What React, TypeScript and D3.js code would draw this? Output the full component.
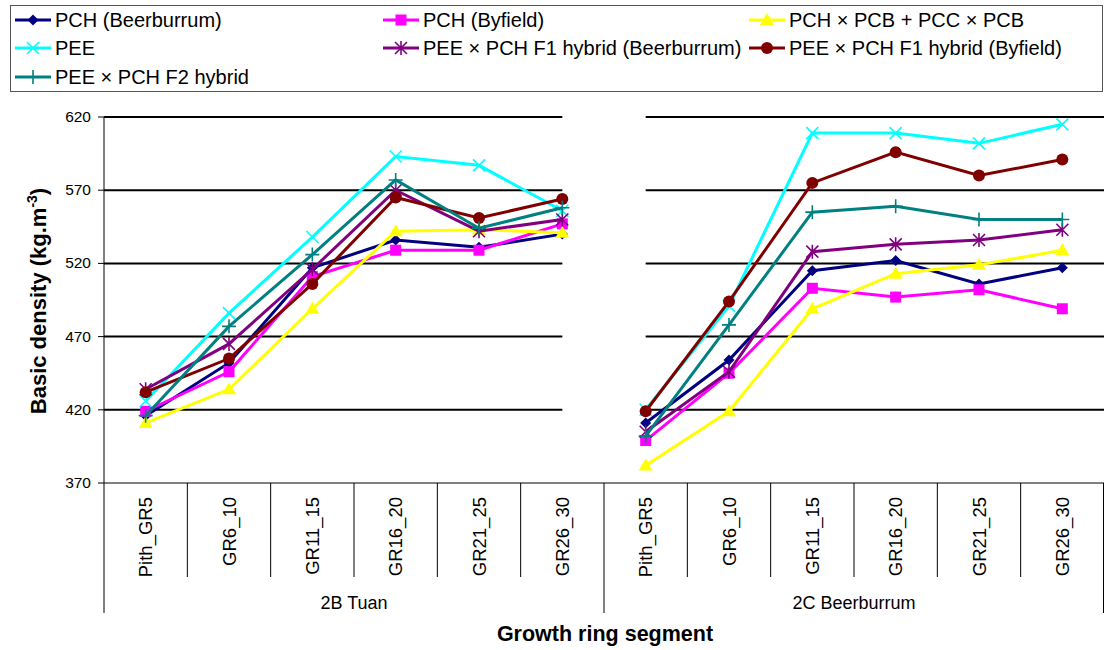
import React from "react";
import * as d3 from "d3";

const categories = ["Pith_GR5", "GR6_10", "GR11_15", "GR16_20", "GR21_25", "GR26_30"];
const groups = ["2B Tuan", "2C Beerburrum"];
const yTicks = [370, 420, 470, 520, 570, 620];

const seriesNames = [
  "PCH (Beerburrum)",
  "PCH (Byfield)",
  "PCH × PCB + PCC × PCB",
  "PEE",
  "PEE × PCH F1 hybrid (Beerburrum)",
  "PEE × PCH F1 hybrid (Byfield)",
  "PEE × PCH F2 hybrid",
];
const seriesColors = ["#000080", "#FF00FF", "#FFFF00", "#00FFFF", "#800080", "#800000", "#008080"];
const seriesMarkers = ["diamond", "square", "triangle", "x", "asterisk", "circle", "plus"];

// values: [2B Tuan x6, 2C Beerburrum x6]
const pchBeerburrum = [416, 452, 517, 536, 531, 540, 411, 454, 515, 522, 506, 517];
const pchByfield = [419, 446, 511, 529, 529, 547, 399, 445, 503, 497, 502, 489];
const pchPcb = [411, 434, 489, 542, 543, 541, 382, 419, 489, 513, 519, 529];
const pee = [426, 486, 538, 593, 587, 556, 420, 491, 609, 609, 602, 615];
const f1Beerburrum = [434, 465, 516, 570, 542, 550, 405, 446, 528, 533, 536, 543];
const f1Byfield = [432, 455, 506, 565, 551, 564, 419, 494, 575, 596, 580, 591];
const f2Hybrid = [416, 477, 526, 577, 544, 558, 402, 478, 555, 559, 550, 550];

const seriesValues = [pchBeerburrum, pchByfield, pchPcb, pee, f1Beerburrum, f1Byfield, f2Hybrid];

const FONT = "'Liberation Sans', Arial, sans-serif";

function Marker({ type, x, y, color }: { type: string; x: number; y: number; color: string }) {
  const s = 5.5;
  switch (type) {
    case "diamond":
      return <path d={`M${x},${y - s}L${x + s},${y}L${x},${y + s}L${x - s},${y}Z`} fill={color} />;
    case "square":
      return <rect x={x - 5.5} y={y - 5.5} width={11} height={11} fill={color} />;
    case "triangle":
      return <path d={`M${x},${y - 7}L${x + 7},${y + 5}L${x - 7},${y + 5}Z`} fill={color} />;
    case "circle":
      return <circle cx={x} cy={y} r={6} fill={color} />;
    case "x":
      return (
        <path d={`M${x - 6},${y - 6}L${x + 6},${y + 6}M${x - 6},${y + 6}L${x + 6},${y - 6}`} stroke={color} strokeWidth={1.6} />
      );
    case "asterisk":
      return (
        <path
          d={`M${x - 6},${y - 6}L${x + 6},${y + 6}M${x - 6},${y + 6}L${x + 6},${y - 6}M${x},${y - 7}L${x},${y + 7}`}
          stroke={color}
          strokeWidth={1.6}
        />
      );
    case "plus":
      return <path d={`M${x - 7},${y}L${x + 7},${y}M${x},${y - 7}L${x},${y + 7}`} stroke={color} strokeWidth={1.6} />;
    default:
      return null;
  }
}

export default function App() {
  const W = 1104;
  const H = 650;
  const left = 104;
  const right = 1104;
  const top = 117;
  const bottom = 483;

  const allCats = d3.range(categories.length * groups.length);
  const x = d3.scaleBand<number>().domain(allCats).range([left, right]).paddingInner(0).paddingOuter(0);
  const cx = (i: number) => (x(i) as number) + x.bandwidth() / 2;
  const y = d3.scaleLinear().domain([370, 620]).range([bottom, top]);

  const groupLines = (vals: number[], g: number) => {
    const idx = d3.range(g * 6, g * 6 + 6);
    return d3
      .line<number>()
      .x((i) => cx(i))
      .y((i) => y(vals[i]))(idx) as string;
  };

  const gridSegments = [
    [left, cx(5)],
    [cx(6), right],
  ];

  const legendCols = [15, 383, 749];
  const legendRows = [20, 48, 77];

  return (
    <svg width={W} height={H} style={{ position: "absolute", left: 0, top: 0 }} fontFamily={FONT}>
      <rect x={0} y={0} width={W} height={H} fill="#fff" />
      {/* legend */}
      <rect x={10.5} y={5.5} width={1092} height={86} fill="#fff" stroke="#555" strokeWidth={1} />
      {seriesNames.map((name, i) => {
        const col = i % 3;
        const row = Math.floor(i / 3);
        const lx = legendCols[col];
        const ly = legendRows[row];
        return (
          <g key={name}>
            <line x1={lx} x2={lx + 36} y1={ly} y2={ly} stroke={seriesColors[i]} strokeWidth={3} />
            <Marker type={seriesMarkers[i]} x={lx + 18} y={ly} color={seriesColors[i]} />
            <text x={lx + 40} y={ly + 7} fontSize={20} fill="#000">
              {name}
            </text>
          </g>
        );
      })}

      {/* gridlines */}
      {yTicks
        .filter((t) => t !== 370)
        .map((t) =>
          gridSegments.map(([a, b], k) => (
            <line key={`${t}-${k}`} x1={a} x2={b} y1={y(t)} y2={y(t)} stroke="#000" strokeWidth={2} />
          ))
        )}

      {/* y axis */}
      <line x1={left} x2={left} y1={top} y2={bottom} stroke="#000" strokeWidth={1} />
      {yTicks.map((t) => (
        <g key={t}>
          <line x1={left - 6} x2={left} y1={y(t)} y2={y(t)} stroke="#000" strokeWidth={1} />
          <text x={91} y={y(t) + 5} fontSize={15.5} textAnchor="end" fill="#000">
            {t}
          </text>
        </g>
      ))}

      {/* x axis */}
      <line x1={left} x2={right} y1={bottom} y2={bottom} stroke="#000" strokeWidth={1} />
      {allCats.map((i) => (
        <line
          key={`sep${i}`}
          x1={x(i) as number}
          x2={x(i) as number}
          y1={bottom}
          y2={i % 6 === 0 ? 613 : 577}
          stroke="#000"
          strokeWidth={1}
        />
      ))}
      <line x1={right - 0.5} x2={right - 0.5} y1={bottom} y2={613} stroke="#000" strokeWidth={1} />
      {allCats.map((i) => (
        <text
          key={`lab${i}`}
          transform={`translate(${cx(i) + 6.5},497) rotate(-90)`}
          textAnchor="end"
          fontSize={18.5}
          fill="#000"
        >
          {categories[i % 6]}
        </text>
      ))}
      {groups.map((g, k) => (
        <text key={g} x={(cx(k * 6) + cx(k * 6 + 5)) / 2} y={609} textAnchor="middle" fontSize={18} fill="#000">
          {g}
        </text>
      ))}

      {/* titles */}
      <text x={605} y={641} textAnchor="middle" fontSize={21.5} fontWeight="bold" fill="#000">
        Growth ring segment
      </text>
      <text transform={`translate(46,301) rotate(-90)`} textAnchor="middle" fontSize={22} fontWeight="bold" fill="#000">
        Basic density (kg.m
        <tspan fontSize={14} dy={-9}>
          -3
        </tspan>
        <tspan dy={9}>)</tspan>
      </text>

      {/* series */}
      {seriesValues.map((vals, s) => (
        <g key={`s${s}`}>
          {groups.map((_, g) => (
            <path key={g} d={groupLines(vals, g)} fill="none" stroke={seriesColors[s]} strokeWidth={3} />
          ))}
          {allCats.map((i) => (
            <Marker key={i} type={seriesMarkers[s]} x={cx(i)} y={y(vals[i])} color={seriesColors[s]} />
          ))}
        </g>
      ))}
    </svg>
  );
}
